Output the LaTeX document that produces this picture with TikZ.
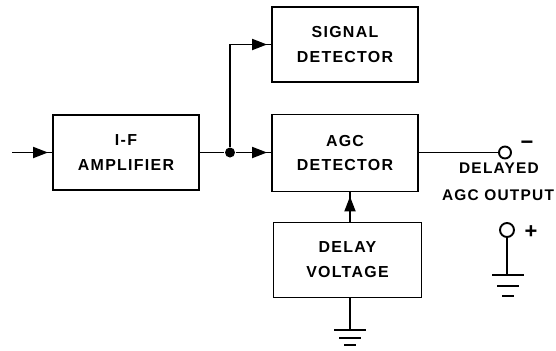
\documentclass[tikz,border=0pt]{standalone}
\usepackage{fontspec}
\setmainfont{Liberation Sans}[LetterSpace=8]
\usetikzlibrary{arrows.meta,decorations.markings}
\begin{document}
\begin{tikzpicture}[x=1bp,y=-1bp,
  line width=1.9bp,
  box/.style={draw, minimum width=146bp, minimum height=75bp, inner sep=0pt,
    align=center, font=\fontsize{16}{25}\selectfont\bfseries},
  lbl/.style={inner sep=0pt, font=\fontsize{15.5}{18}\selectfont\bfseries},
  arr/.style={postaction={decorate}, decoration={markings,
    mark=at position -4bp with {\arrow{Triangle[length=15bp,width=11bp]}}}},
  term/.style={draw, circle, minimum size=12bp, inner sep=0pt, line width=1.9bp},
  dot/.style={fill, circle, minimum size=10bp, inner sep=0pt}]
\useasboundingbox (0,0) rectangle (556,350);
% boxes
\node[box] (ifamp) at (126,152.5) {I-F\\AMPLIFIER};
\node[box] (sig) at (345,44.5) {SIGNAL\\DETECTOR};
\node[box, minimum height=77bp] (agc) at (345,153) {AGC\\DETECTOR};
\node[box, minimum width=148bp] (delay) at (347.5,260) {DELAY\\VOLTAGE};
% input
\coordinate (in) at (12,152.5);
\draw[arr] (in) -- (ifamp.west);
% junction
\node[dot] (j) at (230,152.5) {};
\draw (ifamp.east) -- (j);
\draw[arr] (j) -- (agc.west |- j);
\draw[arr] (j) |- (sig.west);
% delay to agc
\coordinate (dtop) at (350,222.5);
\draw[arr] (dtop) -- (dtop |- agc.south);
% ground under delay
\coordinate (g1) at (350,330);
\draw (dtop |- delay.south) -- (g1);
\draw (334,330) -- (366,330);
\draw (339,338) -- (361,338);
\draw (344,345) -- (356,345);
% output terminals
\node[term] (oc) at (505,152.5) {};
\draw (agc.east |- oc) -- (oc.west);
\node[lbl, font=\fontsize{22}{22}\selectfont\bfseries] (minus) at (527,145) {−};
\node[lbl] (del) at (499,168) {DELAYED};
\node[lbl] (agcout) at (498,195) {AGC OUTPUT};
\node[term, minimum size=14bp] (pc) at (507,230) {};
\node[lbl, font=\fontsize{22}{22}\selectfont\bfseries] (plus) at (531,232) {+};
\coordinate (g2) at (508,275);
\draw (pc.south) -- (pc.south |- g2);
\draw (492,275) -- (524,275);
\draw (497,286) -- (519,286);
\draw (502,296) -- (514,296);
\end{tikzpicture}
\end{document}
